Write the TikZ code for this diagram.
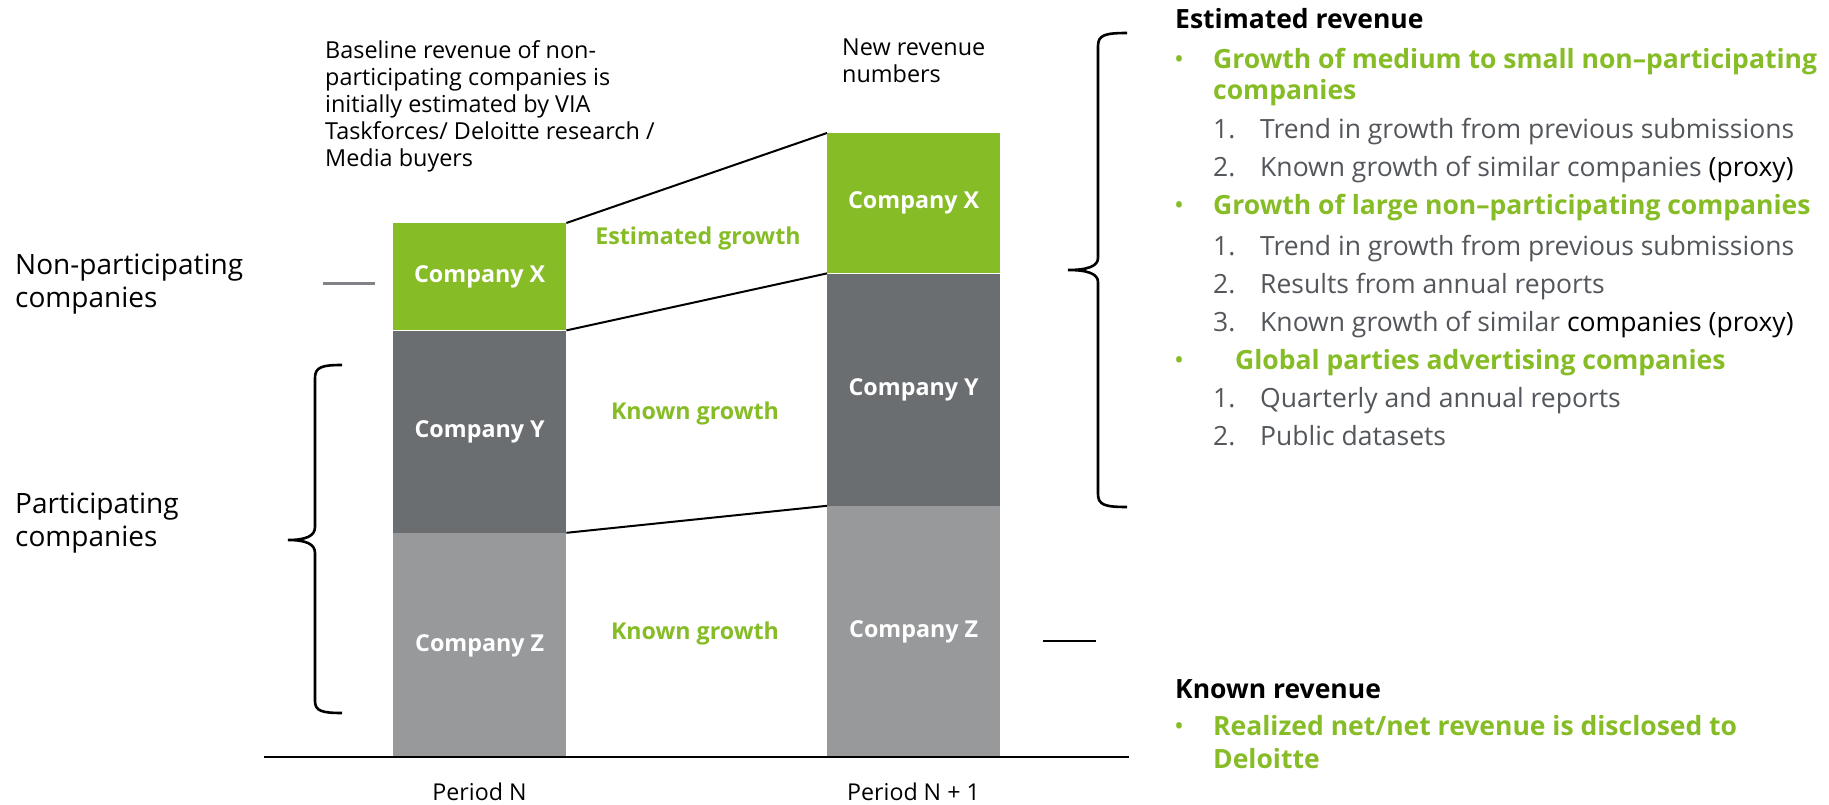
\documentclass[tikz,border=0pt]{standalone}
\usepackage{fontspec}
\setmainfont{Open Sans}
\definecolor{dgreen}{HTML}{86BC25}
\definecolor{ygray}{HTML}{6B6E70}
\definecolor{zgray}{HTML}{97999B}
\definecolor{tgray}{HTML}{53565A}
\definecolor{dashgray}{HTML}{808285}
\begin{document}
\begin{tikzpicture}[x=1pt,y=-1pt,
  bar/.style={inner sep=0pt, minimum width=173pt, text=white, anchor=north west,
    font=\fontsize{23.3}{28}\selectfont\bfseries},
  conn/.style={line width=2pt, black},
  brace/.style={line width=2.6pt, black, line join=miter},
  txt/.style={inner sep=0pt, anchor=base west, align=left},
  lbl/.style={txt, font=\fontsize{28}{32.5}\selectfont},
  note/.style={txt, font=\fontsize{23.4}{27}\selectfont},
  growlbl/.style={inner sep=0pt, anchor=base, text=dgreen, font=\fontsize{23.2}{28}\selectfont\bfseries},
  period/.style={inner sep=0pt, anchor=base, font=\fontsize{23.2}{28}\selectfont},
  rl/.style={txt, font=\fontsize{26.5}{32}\selectfont},
  rhead/.style={rl, font=\fontsize{26.5}{32}\selectfont\bfseries},
  rgreen/.style={rl, text=dgreen, font=\fontsize{26.5}{32}\selectfont\bfseries},
  rgray/.style={rl, text=tgray},
  bul/.style={rl, text=dgreen}
]
\useasboundingbox (0,0) rectangle (1829,805);

% bars, period N
\node[bar, fill=dgreen, minimum height=107pt] (lx) at (393,223) {Company X};
\node[bar, fill=ygray, minimum height=202pt] (ly) at (lx.south west) {Company Y};
\node[bar, fill=zgray, minimum height=225pt] (lz) at (ly.south west) {Company Z};
% bars, period N+1
\node[bar, fill=dgreen, minimum height=140pt] (rx) at (827,133) {Company X};
\node[bar, fill=ygray, minimum height=232pt] (ry) at (rx.south west) {Company Y};
\node[bar, fill=zgray, minimum height=252pt] (rz) at (ry.south west) {Company Z};

% connectors
\draw[conn] (lx.north east) -- (rx.north west);
\draw[conn] (lx.south east) -- (rx.south west);
\draw[conn] (ly.south east) -- (ry.south west);

% axis
\coordinate (axL) at (264,757);
\coordinate (axR) at (1129,757);
\draw[line width=2.4pt] (axL) -- (axR);

% growth labels
\node[growlbl] (eg) at (698,245) {Estimated growth};
\node[growlbl] (kg1) at (695,419) {Known growth};
\node[growlbl] (kg2) at (695,639) {Known growth};

% period labels
\node[period] (pn) at (479.5,800) {Period N};
\node[period] (pn1) at (913.5,800) {Period N + 1};

% notes above (anchor = baseline of last line)
\node[note] (base) at (325,167) {Baseline revenue of non-\\participating companies is\\initially estimated by VIA\\Taskforces/ Deloitte research /\\Media buyers};
\node[note] (newrev) at (842,83) {New revenue\\numbers};

% left labels (anchor = baseline of last line)
\node[lbl] (np) at (15,307.5) {Non-participating\\companies};
\node[lbl] (pc) at (15,546) {Participating\\companies};
\draw[line width=3pt, dashgray] (323,283) -- (375,283);

% left brace
\draw[brace] (342,365) .. controls (322,365) and (315,367) .. (315,378) -- (315,527)
  .. controls (315,536) and (306,540) .. (288,540)
  .. controls (306,540) and (315,544) .. (315,553) -- (315,701)
  .. controls (315,711) and (322,713) .. (342,713);

% right brace
\draw[brace] (1127,33) .. controls (1105,33) and (1098,35) .. (1098,46) -- (1098,258)
  .. controls (1098,266) and (1088,270) .. (1068,270)
  .. controls (1088,270) and (1098,274) .. (1098,282) -- (1098,494)
  .. controls (1098,505) and (1105,507) .. (1127,507);
\draw[line width=2.6pt] (1043,641) -- (1096,641);

% right list: estimated revenue
\node[rhead] (eh) at (1175,29) {Estimated revenue};
\node[bul] (b1) at (1174,69) {•};
\node[rgreen] (g1a) at (1213,69) {Growth of medium to small non–participating};
\node[rgreen] (g1b) at (1213,100) {companies};
\node[rgray] (n11) at (1213,139) {1.};
\node[rgray] (t11) at (1260,139) {Trend in growth from previous submissions};
\node[rgray] (n12) at (1213,177) {2.};
\node[rgray] (t12) at (1260,177) {Known growth of similar companies {\color{black}(proxy)}};
\node[bul] (b2) at (1174,215) {•};
\node[rgreen] (g2) at (1213,215) {Growth of large non–participating companies};
\node[rgray] (n21) at (1213,255) {1.};
\node[rgray] (t21) at (1260,255) {Trend in growth from previous submissions};
\node[rgray] (n22) at (1213,293) {2.};
\node[rgray] (t22) at (1260,293) {Results from annual reports};
\node[rgray] (n23) at (1213,331) {3.};
\node[rgray] (t23) at (1260,331) {Known growth of similar {\color{black}companies (proxy)}};
\node[bul] (b3) at (1174,369) {•};
\node[rgreen] (g3) at (1235,369) {Global parties advertising companies};
\node[rgray] (n31) at (1213,407) {1.};
\node[rgray] (t31) at (1260,407) {Quarterly and annual reports};
\node[rgray] (n32) at (1213,445) {2.};
\node[rgray] (t32) at (1260,445) {Public datasets};

% right list: known revenue
\node[rhead] (kh) at (1175,698) {Known revenue};
\node[bul] (b4) at (1174,735) {•};
\node[rgreen] (g4a) at (1213,735) {Realized net/net revenue is disclosed to};
\node[rgreen] (g4b) at (1213,768) {Deloitte};
\end{tikzpicture}
\end{document}
